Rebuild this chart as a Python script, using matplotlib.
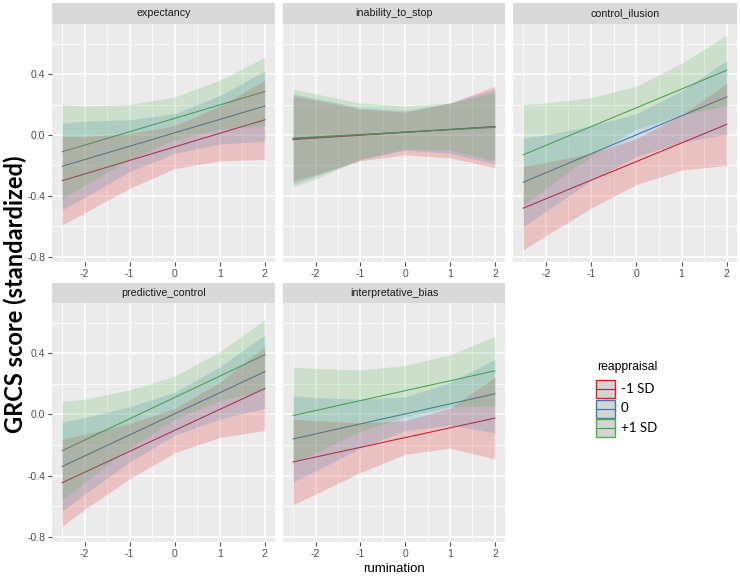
import matplotlib
matplotlib.use("Agg")
import matplotlib.pyplot as plt
from matplotlib.patches import Rectangle
from matplotlib.ticker import FormatStrFormatter

plt.rcParams["axes.unicode_minus"] = False
plt.rcParams["font.family"] = ["Liberation Sans", "DejaVu Sans"]

# facets / groups
facets = ["expectancy", "inability_to_stop", "control_ilusion",
          "predictive_control", "interpretative_bias"]
groups = ["-1 SD", "0", "+1 SD"]
colors = ["#E41A1C", "#377EB8", "#4DAF4A"]
line_colors = ["#C01B2E", "#3E72A2", "#44A044"]

# fitted lines (rumination = -2.5 and 2), order: -1 SD, 0, +1 SD
x_ends = [-2.5, 2.0]
# ribbon points
x_band = [-2.5, -2, -1, 0, 1, 2]

expectancy_fit = [[-0.30, 0.10], [-0.205, 0.19], [-0.11, 0.285]]
expectancy_lo = [[-0.59, -0.51, -0.35, -0.22, -0.17, -0.16],
                 [-0.49, -0.41, -0.24, -0.12, -0.06, -0.04],
                 [-0.42, -0.33, -0.16, -0.03, 0.04, 0.06]]
expectancy_hi = [[-0.01, -0.01, 0.01, 0.06, 0.19, 0.36],
                 [0.08, 0.09, 0.10, 0.14, 0.26, 0.42],
                 [0.20, 0.19, 0.20, 0.25, 0.36, 0.51]]

inability_fit = [[-0.03, 0.055], [-0.025, 0.055], [-0.02, 0.05]]
inability_lo = [[-0.30, -0.26, -0.17, -0.13, -0.15, -0.215],
                [-0.32, -0.27, -0.16, -0.10, -0.12, -0.19],
                [-0.34, -0.29, -0.16, -0.09, -0.10, -0.17]]
inability_hi = [[0.255, 0.23, 0.17, 0.15, 0.21, 0.32],
                [0.27, 0.24, 0.18, 0.16, 0.21, 0.30],
                [0.30, 0.27, 0.21, 0.19, 0.21, 0.28]]

control_fit = [[-0.48, 0.07], [-0.31, 0.25], [-0.13, 0.425]]
control_lo = [[-0.755, -0.66, -0.48, -0.325, -0.23, -0.20],
              [-0.60, -0.50, -0.30, -0.14, -0.05, 0.005],
              [-0.46, -0.35, -0.14, 0.04, 0.13, 0.195]]
control_hi = [[-0.205, -0.18, -0.12, -0.025, 0.13, 0.34],
              [-0.02, 0.0, 0.06, 0.14, 0.29, 0.49],
              [0.20, 0.21, 0.245, 0.32, 0.47, 0.655]]

predictive_fit = [[-0.446, 0.17], [-0.34, 0.28], [-0.237, 0.39]]
predictive_lo = [[-0.73, -0.62, -0.42, -0.25, -0.15, -0.105],
                 [-0.63, -0.52, -0.31, -0.135, -0.03, 0.04],
                 [-0.56, -0.44, -0.22, -0.03, 0.09, 0.16]]
predictive_hi = [[-0.16, -0.13, -0.06, 0.04, 0.21, 0.445],
                 [-0.05, -0.02, 0.05, 0.145, 0.31, 0.52],
                 [0.085, 0.10, 0.16, 0.25, 0.41, 0.62]]

interp_fit = [[-0.31, -0.024], [-0.16, 0.135], [-0.007, 0.285]]
interp_lo = [[-0.59, -0.52, -0.38, -0.26, -0.22, -0.29],
             [-0.44, -0.37, -0.22, -0.105, -0.07, -0.12],
             [-0.32, -0.25, -0.11, -0.015, 0.05, 0.055]]
interp_hi = [[-0.03, -0.04, -0.055, -0.04, 0.04, 0.245],
             [0.12, 0.11, 0.10, 0.115, 0.21, 0.36],
             [0.31, 0.30, 0.29, 0.32, 0.39, 0.51]]

fits = [expectancy_fit, inability_fit, control_fit, predictive_fit, interp_fit]
los = [expectancy_lo, inability_lo, control_lo, predictive_lo, interp_lo]
his = [expectancy_hi, inability_hi, control_hi, predictive_hi, interp_hi]

W, H = 740, 577
fig = plt.figure(figsize=(W / 100, H / 100), dpi=100)


def px_axes(x0, y0, x1, y1):
    return fig.add_axes([x0 / W, 1 - y1 / H, (x1 - x0) / W, (y1 - y0) / H])


col_x = [(52, 275), (283, 505), (513, 737)]
strip_y = [(3, 24), (283, 303)]
plot_y = [(24, 262), (303, 542)]

for i, name in enumerate(facets):
    r, c = divmod(i, 3)
    x0, x1 = col_x[c]
    ax = px_axes(x0, plot_y[r][0], x1, plot_y[r][1])
    ax.set_facecolor("#EBEBEB")
    for s in ax.spines.values():
        s.set_visible(False)
    ax.set_xlim(-2.725, 2.225)
    ax.set_ylim(-0.833, 0.728)
    ax.set_xticks([-2, -1, 0, 1, 2])
    ax.set_xticks([-2.5, -1.5, -0.5, 0.5, 1.5], minor=True)
    ax.set_yticks([-0.8, -0.4, 0.0, 0.4])
    ax.set_yticks([-0.6, -0.2, 0.2, 0.6], minor=True)
    ax.yaxis.set_major_formatter(FormatStrFormatter("%.1f"))
    ax.grid(which="major", color="white", lw=1.1)
    ax.grid(which="minor", color="white", lw=0.55)
    ax.set_axisbelow(True)
    ax.tick_params(which="major", length=3, width=0.8, color="#4D4D4D",
                   labelcolor="#4D4D4D", labelsize=7.5, pad=2)
    ax.tick_params(which="minor", length=0)
    if c != 0:
        ax.tick_params(axis="y", left=False, labelleft=False)

    for g in range(3):
        ax.plot(x_ends, fits[i][g], color=line_colors[g], lw=0.75, zorder=2)
        ax.fill_between(x_band, los[i][g], his[i][g], color=colors[g],
                        alpha=0.2, lw=0, zorder=3)

    sax = px_axes(x0, strip_y[r][0], x1, strip_y[r][1])
    sax.set_facecolor("#D9D9D9")
    sax.set_xticks([])
    sax.set_yticks([])
    for s in sax.spines.values():
        s.set_visible(False)
    sax.text(0.5, 0.5, name, ha="center", va="center", fontsize=7.7,
             color="#1A1A1A", transform=sax.transAxes)

# overlay for labels and legend, in pixel units
ov = fig.add_axes([0, 0, 1, 1])
ov.set_xlim(0, W)
ov.set_ylim(H, 0)
ov.axis("off")

ov.text(15, 294, "GRCS score (standardized)", rotation=90, ha="center",
        va="center", fontsize=17, fontweight="bold", family=["Lato", "DejaVu Sans"])
ov.text(394, 569, "rumination", ha="center", va="center", fontsize=9.5)

ov.text(597, 367, "reappraisal", ha="left", va="center", fontsize=8.7)
for k, lab in enumerate(groups):
    y0 = 380 + 19.5 * k
    ov.add_patch(Rectangle((596, y0), 19, 18, facecolor="#D4D4D4",
                           edgecolor=colors[k], lw=1))
    ov.plot([596.5, 614.5], [y0 + 9, y0 + 9], color=line_colors[k], lw=0.8)
    ov.text(621, y0 + 9, lab, ha="left", va="center", fontsize=9.5,
            family=["Lato", "DejaVu Sans"])

fig.savefig("out.png", dpi=100)
